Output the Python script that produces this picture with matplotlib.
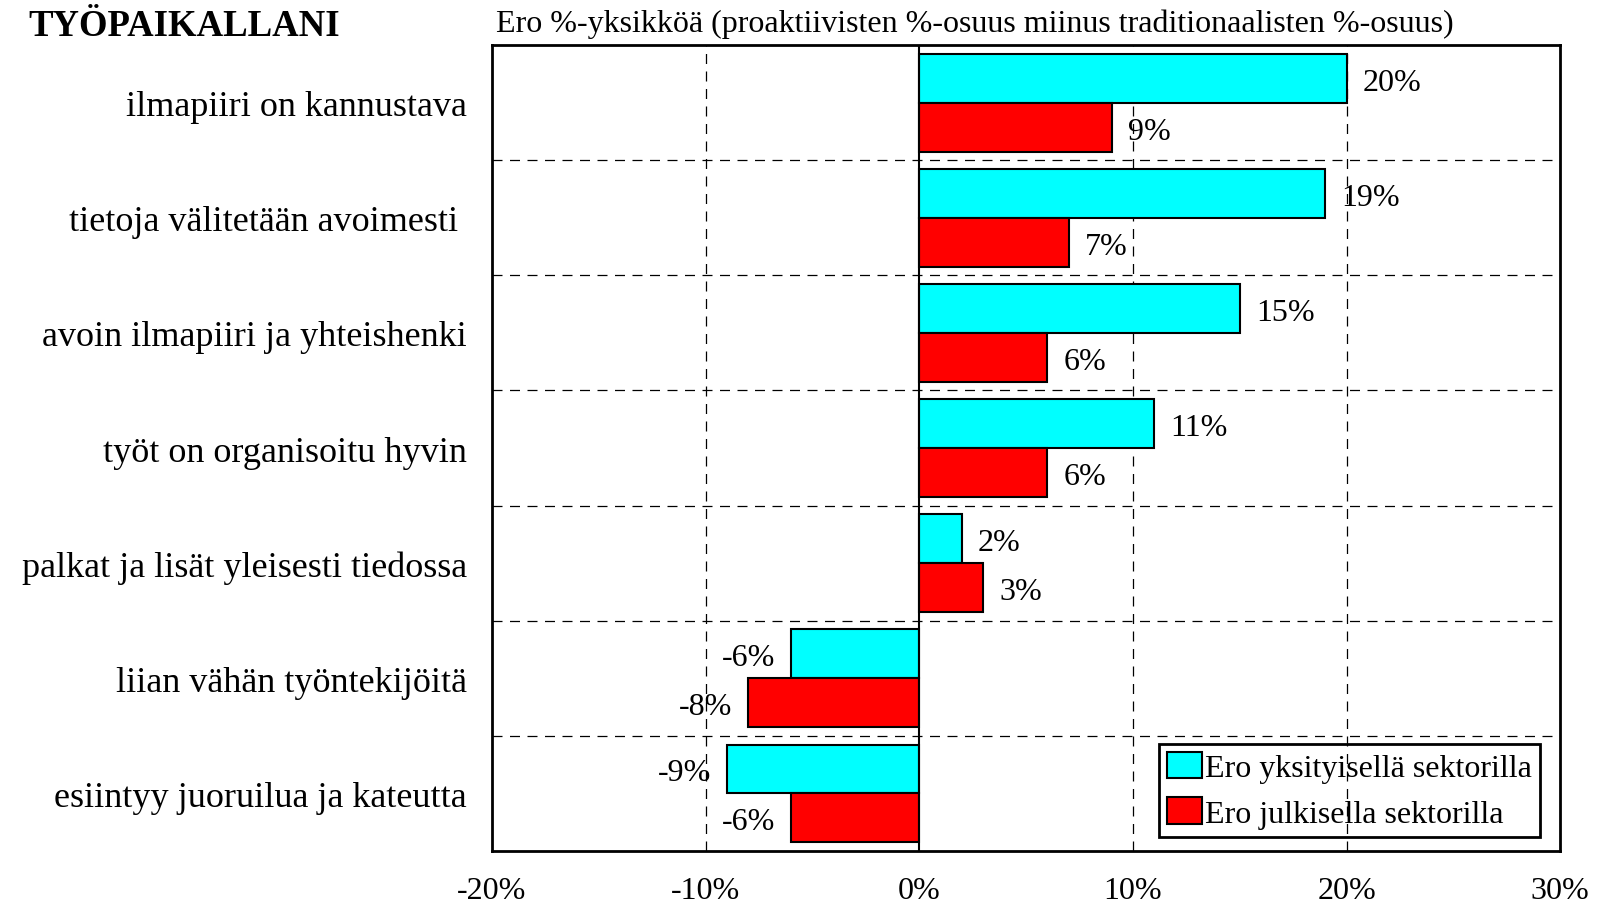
import numpy as np
import matplotlib
matplotlib.use('Agg')
import matplotlib.pyplot as plt

plt.rcParams['font.family'] = ['Liberation Serif', 'DejaVu Serif']

# data (top to bottom)
categories = ['ilmapiiri on kannustava',
              'tietoja välitetään avoimesti ',
              'avoin ilmapiiri ja yhteishenki',
              'työt on organisoitu hyvin',
              'palkat ja lisät yleisesti tiedossa',
              'liian vähän työntekijöitä',
              'esiintyy juoruilua ja kateutta']
private = [20, 19, 15, 11, 2, -6, -9]
public = [9, 7, 6, 6, 3, -8, -6]
series_names = ['Ero yksityisellä sektorilla', 'Ero julkisella sektorilla']
xticks = [-20, -10, 0, 10, 20, 30]

fig = plt.figure(figsize=(15.97, 9.04), dpi=100)
ax = fig.add_axes([0.308, 0.0575, 0.669, 0.8915])

y = np.arange(len(categories))
h = 0.425
b1 = ax.barh(y - h/2, private, height=h, color='#00FFFF', edgecolor='black',
             linewidth=1.5, label=series_names[0], zorder=3)
b2 = ax.barh(y + h/2, public, height=h, color='#FF0000', edgecolor='black',
             linewidth=1.5, label=series_names[1], zorder=3)

# value labels
for bars, vals in [(b1, private), (b2, public)]:
    for bar, v in zip(bars, vals):
        yc = bar.get_y() + bar.get_height()/2
        if v >= 0:
            ax.annotate('%d%%' % v, (v, yc), xytext=(16, -4), textcoords='offset pixels',
                        ha='left', va='center', fontsize=23, zorder=4)
        else:
            ax.annotate('%d%%' % v, (v, yc), xytext=(-16, -4), textcoords='offset pixels',
                        ha='right', va='center', fontsize=23, zorder=4)

ax.set_xlim(xticks[0], xticks[-1])
ax.set_ylim(len(categories) - 0.5, -0.5)
ax.set_xticks(xticks)
ax.set_xticklabels(['%d%%' % t for t in xticks], fontsize=23)
ax.set_yticks(y)
ax.set_yticklabels(categories, fontsize=26)
ax.tick_params(axis='both', length=0)
ax.tick_params(axis='y', pad=18)
ax.tick_params(axis='x', pad=18)

# grid
for t in xticks[1:-1]:
    if t == 0:
        ax.axvline(0, color='black', lw=1.5, zorder=4)
    else:
        ax.axvline(t, color='black', lw=0.9, ls=(0, (8, 6)), zorder=1)
for k in range(len(categories) - 1):
    ax.axhline(k + 0.5, color='black', lw=0.9, ls=(0, (8, 6)), zorder=1)

for s in ax.spines.values():
    s.set_linewidth(2)

leg = ax.legend(loc='lower right', bbox_to_anchor=(0.981, 0.0177), borderaxespad=0,
                fontsize=23, frameon=True, fancybox=False, edgecolor='black',
                handlelength=1.1, handleheight=0.9, handletextpad=0.1,
                labelspacing=0.45, borderpad=0.25)
leg.get_frame().set_facecolor('none')
leg.get_frame().set_linewidth(2)
leg.get_frame().set_alpha(None)

fig.text(0.0178, 0.960, 'TYÖPAIKALLANI', fontsize=26.5, fontweight='bold', va='baseline')
fig.text(0.3106, 0.965, 'Ero %-yksikköä (proaktiivisten %-osuus miinus traditionaalisten %-osuus)',
         fontsize=23, va='baseline')

fig.savefig('out.png', dpi=100)
